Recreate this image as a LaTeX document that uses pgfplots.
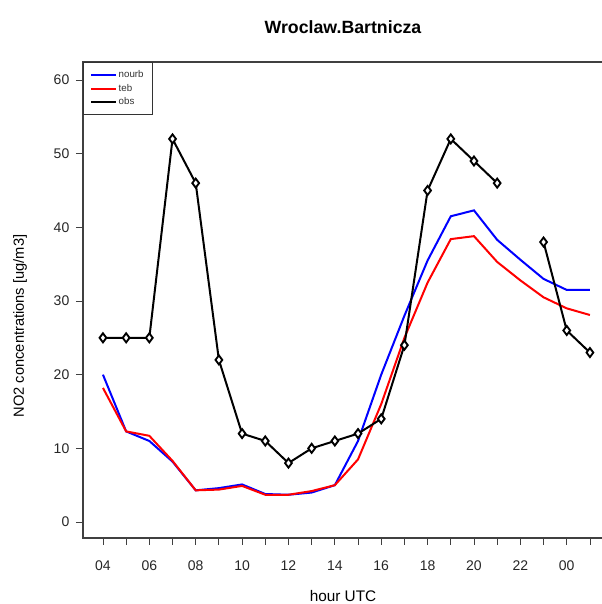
\documentclass[border=0pt]{standalone}
\usepackage{fontspec}
\setmainfont{Liberation Sans}
\usepackage{pgfplots}
\pgfplotsset{compat=1.18}
\begin{document}
\begin{tikzpicture}[x=0.75pt,y=0.75pt]
\useasboundingbox (0,0) rectangle (601,604);
\begin{axis}[
  at={(62.25pt,49.5pt)}, anchor=south west,
  scale only axis, width=391.5pt, height=357pt,
  xmin=3.14, xmax=25.65, ymin=-2.17, ymax=62.44,
  axis line style={draw=black!75, line width=0.8pt},
  tick align=outside, xtick pos=left, ytick pos=left,
  major tick length=5.25pt, minor tick length=5.25pt,
  tick style={black!75, line width=0.6pt},
  xtick={4,6,...,24}, xticklabels={04,06,08,10,12,14,16,18,20,22,00},
  minor xtick={5,7,...,25},
  ytick={0,10,...,60},
  /pgf/number format/assume math mode=true,
  ticklabel style={font=\fontsize{10.5}{12}\selectfont, text=black!85},
  yticklabel style={xshift=-1.5pt},
  xticklabel style={yshift=-8pt},
  unbounded coords=jump,
  legend style={at={(0,1)}, anchor=north west, draw=black!80, line width=0.6pt,
    font=\fontsize{7.3}{8}\selectfont, inner xsep=5pt, inner ysep=4.5pt, row sep=0.5pt,
    nodes={inner sep=1.5pt, text=black!80},
    legend cell align=left},
  legend image code/.code={\draw[#1, line width=1.5pt] (0pt,0pt) -- (15.75pt,0pt);
    \path (0pt,0pt) -- (18.5pt,0pt);},
]
\addplot[blue, line width=1.5pt] coordinates {
(4,20.0) (5,12.3) (6,11.0) (7,8.2) (8,4.3) (9,4.6) (10,5.1) (11,3.8) (12,3.7) (13,4.0)
(14,5.0) (15,11.0) (16,20.0) (17,28.0) (18,35.5) (19,41.5) (20,42.3) (21,38.3) (22,35.6)
(23,33.0) (24,31.5) (25,31.5)};
\addlegendentry{nourb}
\addplot[red, line width=1.5pt] coordinates {
(4,18.2) (5,12.3) (6,11.7) (7,8.3) (8,4.3) (9,4.4) (10,4.9) (11,3.7) (12,3.7) (13,4.2)
(14,5.0) (15,8.5) (16,16.0) (17,25.0) (18,32.5) (19,38.4) (20,38.8) (21,35.3) (22,32.8)
(23,30.5) (24,29.0) (25,28.1)};
\addlegendentry{teb}
\addplot[black, line width=1.5pt, mark=diamond*, mark size=3.4pt,
  mark options={fill=white, line width=1.4pt}] coordinates {
(4,25) (5,25) (6,25) (7,52) (8,46) (9,22) (10,12) (11,11) (12,8) (13,10)
(14,11) (15,12) (16,14) (17,24) (18,45) (19,52) (20,49) (21,46) (22,nan)
(23,38) (24,26) (25,23)};
\addlegendentry{obs}
\end{axis}
\node[font=\bfseries\fontsize{13.3}{15}\selectfont] at (343,577) {Wroclaw.Bartnicza};
\node[font=\fontsize{11.5}{13}\selectfont] at (343,8) {hour UTC};
\node[rotate=90, font=\fontsize{11}{13}\selectfont] at (20,278) {NO2 concentrations [ug/m3]};
\end{tikzpicture}
\end{document}
